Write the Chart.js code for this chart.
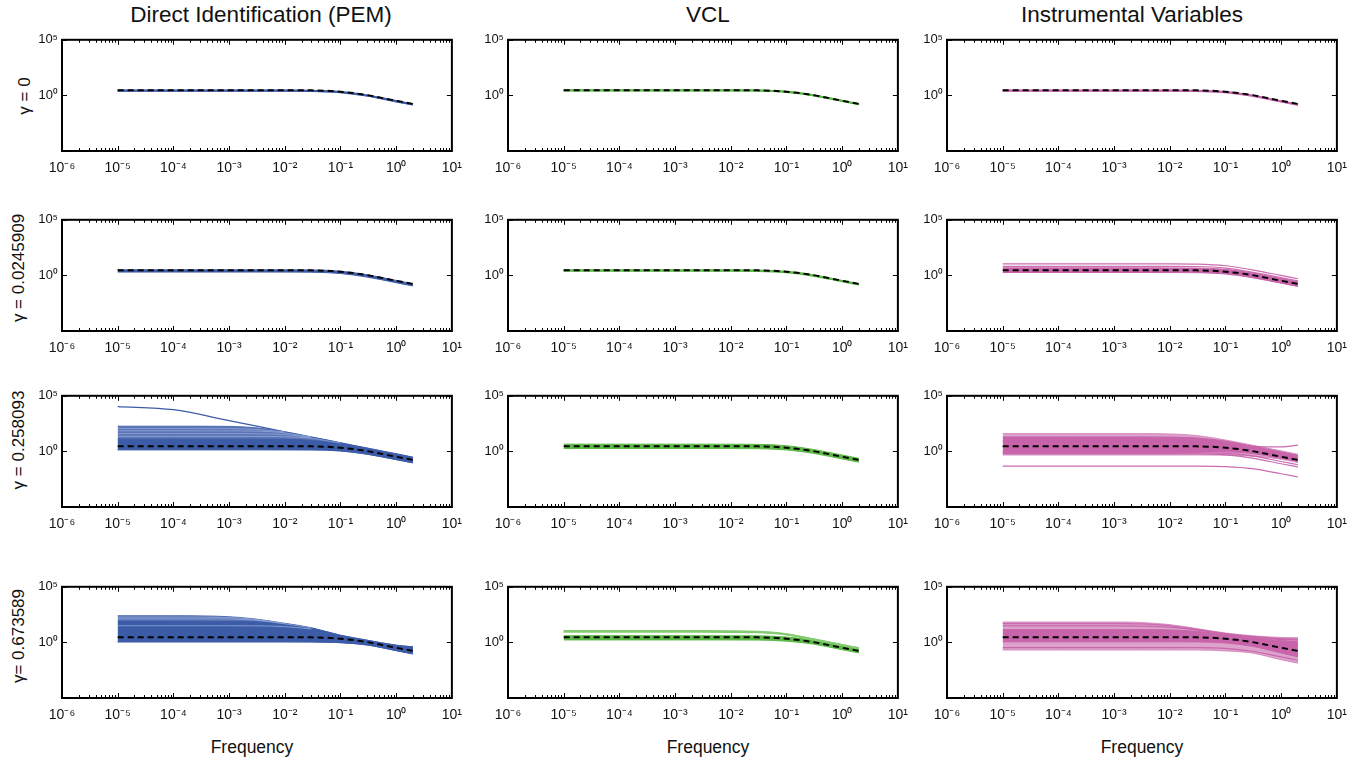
<!DOCTYPE html>
<html>
<head>
<meta charset="utf-8">
<script src="https://cdn.jsdelivr.net/npm/chart.js@4.4.0/dist/chart.umd.min.js"></script>
<style>
    body { margin: 0; background: #fff; width: 1358px; height: 763px; overflow: hidden; position: relative; font-family: "Liberation Sans", Arial, sans-serif; color: #000; }
    canvas { position: absolute; }
    .title { position: absolute; top: 4px; font-size: 22.5px; line-height: 1; transform: translateX(-50%); white-space: nowrap; color: #111; }
    .xlab { position: absolute; top: 739px; font-size: 17.5px; line-height: 1; transform: translateX(-50%); white-space: nowrap; color: #111; }
    .ylab { position: absolute; font-size: 17px; line-height: 1; white-space: nowrap; transform: translate(-50%, -50%) rotate(-90deg); color: #111; }
</style>
</head>
<body>
<script>
// text
const methodTitles = ['Direct Identification (PEM)', 'VCL', 'Instrumental Variables'];
const gammaLabels = ['γ = 0', 'γ = 0.0245909', 'γ = 0.258093', 'γ= 0.673589'];
const xAxisLabel = 'Frequency';

// axes
const xTickValues = [1e-6, 1e-5, 1e-4, 1e-3, 1e-2, 1e-1, 1, 10];
const xTickLabels = ['10⁻⁶', '10⁻⁵', '10⁻⁴', '10⁻³', '10⁻²', '10⁻¹', '10⁰', '10¹'];
const yTickValues = [1e-5, 1, 1e5];
const yTickLabels = ['', '10⁰', '10⁵'];

// frequency grid shared by every curve
const freq = [1e-5, 1e-4, 1e-3, 3e-3, 1e-2, 3e-2, 0.1, 0.3, 1, 2];

// true system (dashed)
const trueResponse = [2.95, 2.95, 2.95, 2.95, 2.92, 2.85, 2.16, 1.07, 0.33, 0.17];

// gamma = 0
const pem0A = [2.75, 2.75, 2.75, 2.75, 2.73, 2.66, 2.02, 1.0, 0.31, 0.158];
const pem0B = [2.63, 2.63, 2.63, 2.63, 2.61, 2.54, 1.93, 0.955, 0.288, 0.148];
const vcl0A = [2.9, 2.9, 2.9, 2.9, 2.88, 2.8, 2.12, 1.05, 0.325, 0.165];
const vcl0B = [2.82, 2.82, 2.82, 2.82, 2.8, 2.72, 2.07, 1.02, 0.316, 0.16];
const iv0A = [2.75, 2.75, 2.75, 2.75, 2.73, 2.66, 2.0, 0.97, 0.295, 0.151];
const iv0B = [2.63, 2.63, 2.63, 2.63, 2.61, 2.54, 1.9, 0.93, 0.28, 0.141];

// gamma = 0.0245909
const pem1Upper = [3.16, 3.16, 3.16, 3.16, 3.14, 3.08, 2.4, 1.15, 0.355, 0.18];
const pem1Lower = [2.0, 2.0, 2.0, 2.0, 1.98, 1.94, 1.48, 0.71, 0.22, 0.112];
const vcl1A = [2.88, 2.88, 2.88, 2.88, 2.86, 2.78, 2.1, 1.03, 0.32, 0.162];
const vcl1B = [2.6, 2.6, 2.6, 2.6, 2.58, 2.52, 1.92, 0.95, 0.295, 0.15];
const iv1A = [11, 11, 11, 11, 10.96, 10.4, 7.41, 3.16, 0.99, 0.5];
const iv1B = [6.6, 6.6, 6.6, 6.6, 6.55, 6.3, 4.57, 2.0, 0.624, 0.316];
const iv1Upper = [4.79, 4.79, 4.79, 4.79, 4.75, 4.62, 3.51, 1.66, 0.52, 0.263];
const iv1Lower = [1.82, 1.82, 1.82, 1.82, 1.8, 1.76, 1.33, 0.63, 0.197, 0.1];

// gamma = 0.258093
const pem2Upper = [186, 186, 178, 135, 56.2, 19.3, 5.89, 1.95, 0.589, 0.295];
const pem2CoreUpper = [12.6, 12.6, 12.6, 12.6, 12.2, 9.77, 4.79, 1.64, 0.501, 0.251];
const pem2Lower = [1.41, 1.41, 1.41, 1.41, 1.4, 1.38, 1.1, 0.562, 0.182, 0.093];
const pem2Outlier = [10700, 5620, 589, 195, 58.9, 19.5, 5.89, 1.95, 0.589, 0.295];
const pem2S1 = [112, 112, 110, 95.5, 56.2, null, null, null, null, null];
const pem2S2 = [70.8, 70.8, 70, 66.5, 46.8, 18.6, null, null, null, null];
const pem2S3 = [39.8, 39.8, 39.8, 38.9, 32.4, 19.1, null, null, null, null];
const pem2S4 = [22.4, 22.4, 22.4, 22.4, 20.9, 15.1, 5.62, null, null, null];
const vcl2Upper = [4.47, 4.47, 4.47, 4.47, 4.42, 4.32, 3.24, 1.51, 0.473, 0.24];
const vcl2Lower = [1.82, 1.82, 1.82, 1.82, 1.8, 1.76, 1.35, 0.676, 0.211, 0.107];
const iv2Top = [39.8, 39.8, 39.8, 39.8, 37.5, 27.2, 10.7, 3.68, 1.12, 0.562];
const iv2Bottom = [0.468, 0.468, 0.468, 0.468, 0.468, 0.468, 0.457, 0.372, 0.195, 0.098];
const iv2CoreUpper = [20, 20, 20, 20, 19.5, 16.2, 8.51, 2.88, 0.891, 0.447];
const iv2CoreLower = [1, 1, 1, 1, 1, 0.989, 0.923, 0.661, 0.24, 0.123];
const iv2Rising = [8.91, 8.91, 8.91, 8.91, 8.71, 7.94, 5.01, 2.82, 2.51, 3.63];
const iv2LowA = [0.794, 0.794, 0.794, 0.794, 0.794, 0.785, 0.661, 0.398, 0.123, 0.063];
const iv2LowB = [0.631, 0.631, 0.631, 0.631, 0.631, 0.617, 0.479, 0.251, 0.078, 0.04];
const iv2LowC = [0.0468, 0.0468, 0.0468, 0.0468, 0.0468, 0.0468, 0.0422, 0.0282, 0.0098, 0.005];

// gamma = 0.673589
const pem3Upper = [251, 251, 204, 126, 52.5, 20.9, 4.37, 1.58, 0.562, 0.398];
const pem3CoreUpper = [79.4, 79.4, 77.6, 70.8, 44.7, 19.5, 4.37, 1.58, 0.562, 0.398];
const pem3Lower = [1.12, 1.12, 1.12, 1.12, 1.12, 1.1, 0.944, 0.589, 0.182, 0.092];
const pem3S1 = [191, 191, 170, 115, 50, null, null, null, null, null];
const pem3S2 = [132, 132, 126, 100, 47, 20, null, null, null, null];
const pem3S3 = [31.6, 31.6, 31.6, 30.9, 26.3, 15.8, null, null, null, null];
const vcl3A = [10.5, 10.5, 10.5, 10.5, 10.3, 9.12, 5.5, 1.91, 0.589, 0.295];
const vcl3B = [8.91, 8.91, 8.91, 8.91, 8.81, 8.04, 5.25, 1.91, 0.589, 0.295];
const vcl3Upper = [3.98, 3.98, 3.98, 3.98, 3.95, 3.89, 3.02, 1.58, 0.49, 0.251];
const vcl3Lower = [1.66, 1.66, 1.66, 1.66, 1.65, 1.62, 1.29, 0.708, 0.219, 0.112];
const iv3Top = [69.2, 69.2, 69.2, 63.1, 39.8, 17.8, 7.08, 3.98, 2.82, 2.63];
const iv3Bottom = [0.204, 0.204, 0.204, 0.204, 0.204, 0.204, 0.17, 0.11, 0.027, 0.0135];
const iv3CoreUpper = [14.1, 14.1, 14.1, 14.1, 13.2, 10, 5.01, 2.51, 1.41, 1.12];
const iv3CoreLower = [1.12, 1.12, 1.12, 1.12, 1.12, 1.1, 0.891, 0.447, 0.112, 0.05];
const iv3LineA = [49, 49, 49, 46, 31.6, 15, 6.3, 3.5, 2.2, 2.0];
const iv3LineB = [30.2, 30.2, 30.2, 29.5, 24, 13.5, 5.6, 3.0, 1.8, 1.6];
const iv3LineC = [0.339, 0.339, 0.339, 0.339, 0.339, 0.339, 0.29, 0.16, 0.05, 0.025];

// colours
const blue = '#3d5ca8';
const blueOuter = 'rgba(61, 92, 168, 0.85)';
const blueStripe = 'rgba(150, 172, 220, 0.75)';
const green = '#5cb947';
const greenLight = '#84cb72';
const magenta = '#c764aa';
const magentaOuter = 'rgba(199, 100, 170, 0.6)';
const magentaLine = 'rgba(199, 100, 170, 0.95)';

// layout of the 4 x 3 grid
const colLeft = [62, 508, 947];
const rowTop = [38, 218, 394, 585];
const boxW = 393;
const boxH = 113;
const padL = 50, padT = 10, padR = 16, padB = 32;

const panels = [
    [
        [{ type: 'lines', series: [pem0A, pem0B], color: blue, width: 2 }],
        [{ type: 'lines', series: [vcl0A, vcl0B], color: green, width: 2 }],
        [{ type: 'lines', series: [iv0A, iv0B], color: magenta, width: 2 }]
    ],
    [
        [{ type: 'band', upper: pem1Upper, lower: pem1Lower, color: blue }],
        [{ type: 'lines', series: [vcl1A, vcl1B], color: green, width: 2 }],
        [
            { type: 'band', upper: iv1Upper, lower: iv1Lower, color: magenta },
            { type: 'lines', series: [iv1A, iv1B], color: magentaLine, width: 1.2 }
        ]
    ],
    [
        [
            { type: 'band', upper: pem2Upper, lower: pem2Lower, color: blueOuter, order: 5 },
            { type: 'band', upper: pem2CoreUpper, lower: pem2Lower, color: blue, order: 4 },
            { type: 'lines', series: [pem2S1, pem2S2, pem2S3, pem2S4], color: blueStripe, width: 1 },
            { type: 'lines', series: [pem2Outlier], color: blue, width: 1.2 }
        ],
        [{ type: 'band', upper: vcl2Upper, lower: vcl2Lower, color: green }],
        [
            { type: 'band', upper: iv2Top, lower: iv2Bottom, color: magentaOuter, order: 5 },
            { type: 'band', upper: iv2CoreUpper, lower: iv2CoreLower, color: magenta, order: 4 },
            { type: 'lines', series: [iv2Rising, iv2LowA, iv2LowB, iv2LowC], color: magentaLine, width: 1.2 }
        ]
    ],
    [
        [
            { type: 'band', upper: pem3Upper, lower: pem3Lower, color: blueOuter, order: 5 },
            { type: 'band', upper: pem3CoreUpper, lower: pem3Lower, color: blue, order: 4 },
            { type: 'lines', series: [pem3S1, pem3S2, pem3S3], color: blueStripe, width: 1 }
        ],
        [
            { type: 'band', upper: vcl3Upper, lower: vcl3Lower, color: green, order: 4 },
            { type: 'lines', series: [vcl3A, vcl3B], color: greenLight, width: 2 }
        ],
        [
            { type: 'band', upper: iv3Top, lower: iv3Bottom, color: magentaOuter, order: 5 },
            { type: 'band', upper: iv3CoreUpper, lower: iv3CoreLower, color: magenta, order: 4 },
            { type: 'lines', series: [iv3LineA, iv3LineB, iv3LineC], color: magentaLine, width: 1.2 }
        ]
    ]
];

function toPoints(values) {
    return freq.map((f, i) => ({ x: f, y: values[i] }));
}

function buildDatasets(layers) {
    const sets = [{
        data: toPoints(trueResponse), borderColor: '#000', borderWidth: 2, borderDash: [6, 4],
        pointRadius: 0, fill: false, cubicInterpolationMode: 'monotone', order: 0
    }];
    layers.forEach(layer => {
        if (layer.type === 'band') {
            sets.push({
                data: toPoints(layer.upper), borderColor: layer.color, backgroundColor: layer.color,
                borderWidth: 1, pointRadius: 0, fill: '+1', cubicInterpolationMode: 'monotone', order: layer.order || 4
            });
            sets.push({
                data: toPoints(layer.lower), borderColor: layer.color, borderWidth: 1,
                pointRadius: 0, fill: false, cubicInterpolationMode: 'monotone', order: layer.order || 4
            });
        } else {
            layer.series.forEach(s => {
                sets.push({
                    data: toPoints(s), borderColor: layer.color, borderWidth: layer.width,
                    pointRadius: 0, fill: false, cubicInterpolationMode: 'monotone', order: 2
                });
            });
        }
    });
    return sets;
}

// box with inward tick marks, matlab style
const boxPlugin = {
    id: 'box',
    afterDatasetsDraw(chart) {
        const { ctx, chartArea: a, scales: { x, y } } = chart;
        ctx.save();
        ctx.strokeStyle = '#000';
        ctx.lineWidth = 1;
        ctx.beginPath();
        for (let e = -6; e <= 0; e++) {
            for (let m = 1; m <= 9; m++) {
                const px = Math.round(x.getPixelForValue(m * Math.pow(10, e))) + 0.5;
                const len = m === 1 ? 5 : 3;
                ctx.moveTo(px, a.bottom);
                ctx.lineTo(px, a.bottom - len);
                ctx.moveTo(px, a.top);
                ctx.lineTo(px, a.top + len);
            }
        }
        yTickValues.forEach(v => {
            const py = Math.round(y.getPixelForValue(v)) + 0.5;
            ctx.moveTo(a.left, py);
            ctx.lineTo(a.left + 5, py);
            ctx.moveTo(a.right, py);
            ctx.lineTo(a.right - 5, py);
        });
        ctx.stroke();
        ctx.lineWidth = 2;
        ctx.strokeRect(a.left, a.top, a.right - a.left, a.bottom - a.top);
        ctx.restore();
    }
};

function addText(cls, text, left, top) {
    const d = document.createElement('div');
    d.className = cls;
    d.textContent = text;
    d.style.left = left + 'px';
    if (top !== undefined) d.style.top = top + 'px';
    document.body.appendChild(d);
}

const titleCenters = [261, 708, 1132];
const freqCenters = [252, 708, 1142];
const gammaPos = [[24, 96], [18, 268], [18, 440], [18, 636]];

methodTitles.forEach((t, c) => addText('title', t, titleCenters[c]));
freqCenters.forEach(cx => addText('xlab', xAxisLabel, cx));
gammaLabels.forEach((t, r) => addText('ylab', t, gammaPos[r][0], gammaPos[r][1]));

const tickFont = '"Liberation Sans Narrow", "Liberation Sans", sans-serif';

panels.forEach((row, r) => {
    row.forEach((layers, c) => {
        const canvas = document.createElement('canvas');
        const w = boxW + padL + padR;
        const h = boxH + padT + padB;
        canvas.width = w;
        canvas.height = h;
        canvas.style.width = w + 'px';
        canvas.style.height = h + 'px';
        canvas.style.left = (colLeft[c] - padL) + 'px';
        canvas.style.top = (rowTop[r] - padT) + 'px';
        document.body.appendChild(canvas);

        new Chart(canvas, {
            type: 'line',
            data: { datasets: buildDatasets(layers) },
            options: {
                responsive: false,
                animation: false,
                events: [],
                layout: { padding: { left: 0, top: padT, right: padR, bottom: 0 } },
                plugins: { legend: { display: false }, tooltip: { enabled: false } },
                scales: {
                    x: {
                        type: 'logarithmic', min: 1e-6, max: 10,
                        grid: { display: false, drawTicks: false },
                        border: { display: false },
                        afterFit: s => { s.height = padB; },
                        afterBuildTicks: s => { s.ticks = xTickValues.map(v => ({ value: v })); },
                        ticks: {
                            autoSkip: false, maxRotation: 0, padding: 9, color: '#111',
                            font: { family: tickFont, size: 14 },
                            callback: (v, i) => xTickLabels[i]
                        }
                    },
                    y: {
                        type: 'logarithmic', min: 1e-5, max: 1e5,
                        grid: { display: false, drawTicks: false },
                        border: { display: false },
                        afterFit: s => { s.width = padL; },
                        afterBuildTicks: s => { s.ticks = yTickValues.map(v => ({ value: v })); },
                        ticks: {
                            autoSkip: false, padding: 4, color: '#111',
                            font: { family: tickFont, size: 13 },
                            callback: (v, i) => yTickLabels[i]
                        }
                    }
                }
            },
            plugins: [boxPlugin]
        });
    });
});
</script>
</body>
</html>
